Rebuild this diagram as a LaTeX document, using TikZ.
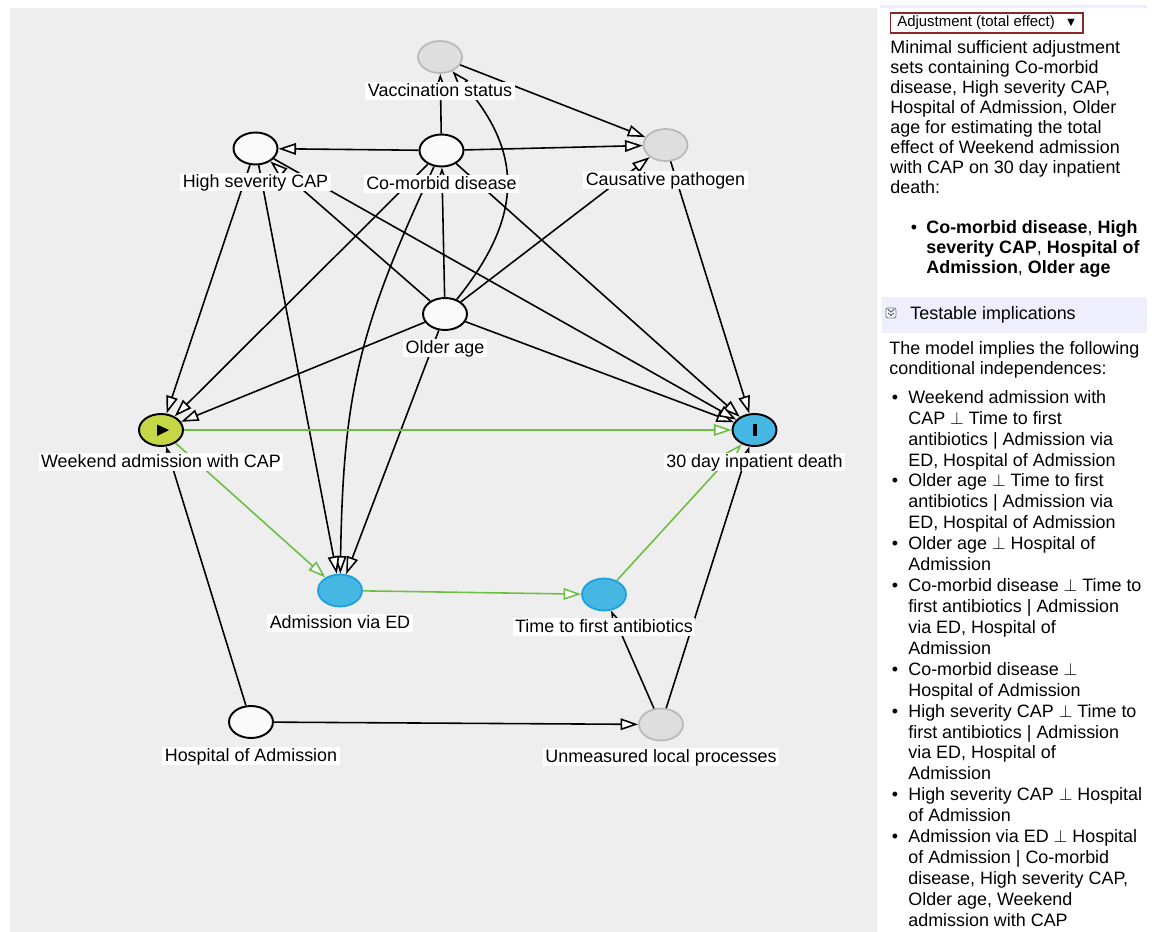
\documentclass[tikz,border=0pt]{standalone}
\usepackage{fontspec}
\setmainfont{Liberation Sans}
\newfontfamily\symfont{DejaVu Sans}
\usetikzlibrary{shapes.geometric,arrows.meta}

\definecolor{panelgray}{RGB}{238,238,238}
\definecolor{nodewhite}{RGB}{250,250,250}
\definecolor{latfill}{RGB}{222,222,222}
\definecolor{latborder}{RGB}{185,185,185}
\definecolor{medfill}{RGB}{70,182,226}
\definecolor{medborder}{RGB}{26,160,220}
\definecolor{expfill}{RGB}{197,214,71}
\definecolor{pathgreen}{RGB}{108,190,69}
\definecolor{lavender}{RGB}{238,238,252}
\definecolor{dropred}{RGB}{140,40,40}
\definecolor{iconborder}{RGB}{110,125,150}

\begin{document}
\begin{tikzpicture}[x=0.02cm,y=-0.02cm,
  vnode/.style={ellipse, draw=black, line width=1.1pt, minimum width=0.88cm,
    minimum height=0.64cm, inner sep=0pt, fill=nodewhite},
  latent/.style={vnode, draw=latborder, fill=latfill, line width=1pt},
  mediator/.style={vnode, draw=medborder, fill=medfill, line width=1pt},
  exposure/.style={vnode, fill=expfill},
  outcome/.style={vnode, fill=medfill},
  lab/.style={fill=white, inner xsep=1.5pt, inner ysep=0pt, text height=8pt,
    text depth=2.2pt, font=\fontsize{10.2}{11}\selectfont},
  edge/.style={draw=black, line width=0.9pt,
    -{Triangle[length=10pt,width=6.6pt,fill=white]}},
  causal/.style={edge, draw=pathgreen},
  ptext/.style={anchor=base west, inner sep=0pt, font=\fontsize{10.2}{11}\selectfont},
]
\useasboundingbox (0,0) rectangle (1159,932);

% graph canvas
\fill[panelgray] (10,8) rectangle (877,932);

% variables
\node[latent]   (V)  at (440,57)      {};
\node[vnode]    (H)  at (255.5,148.5) {};
\node[vnode]    (C)  at (441.5,150.5) {};
\node[latent]   (P)  at (665.5,145)   {};
\node[vnode]    (O)  at (445,314)     {};
\node[exposure] (W)  at (161,430)     {};
\node[outcome]  (D)  at (754.5,430)   {};
\node[mediator] (A)  at (340,590.5)   {};
\node[mediator] (T)  at (604,594.5)   {};
\node[vnode]    (Hs) at (251,722)     {};
\node[latent]   (U)  at (661,724.5)   {};

% exposure and outcome marks
\fill (157,424.5) -- (169,430) -- (157,436) -- cycle;
\fill (752.5,424) rectangle (757,436);

% arrows
\draw[edge] (V) -- (P);
\draw[edge] (C) -- (V);
\draw[edge] (C) -- (H);
\draw[edge] (C) -- (P);
\draw[edge] (C) -- (W);
\draw[edge] (C) to[bend right=12, looseness=1.1] (A);
\draw[edge] (C) -- (D);
\draw[edge] (O) -- (C);
\draw[edge] (O) -- (H);
\draw[edge] (O) to[bend right=40, looseness=1.2] (V);
\draw[edge] (O) -- (P);
\draw[edge] (O) -- (W);
\draw[edge] (O) -- (A);
\draw[edge] (O) -- (D);
\draw[edge] (H) -- (W);
\draw[edge] (H) -- (A);
\draw[edge] (H) -- (D);
\draw[edge] (P) -- (D);
\draw[edge] (Hs) -- (W);
\draw[edge] (Hs) -- (U);
\draw[edge] (U) -- (T);
\draw[edge] (U) -- (D);
\draw[causal] (W) -- (D);
\draw[causal] (W) -- (A);
\draw[causal] (A) -- (T);
\draw[causal] (T) -- (D);

% variable names
\node[lab] (Vl)  at (440,91)    {Vaccination status};
\node[lab] (Hl)  at (255.5,182) {High severity CAP};
\node[lab] (Cl)  at (441.5,184) {Co-morbid disease};
\node[lab] (Pl)  at (665.5,180) {Causative pathogen};
\node[lab] (Ol)  at (445,348)   {Older age};
\node[lab] (Wl)  at (161,462)   {Weekend admission with CAP};
\node[lab] (Dl)  at (754.5,462) {30 day inpatient death};
\node[lab] (Al)  at (340,623)   {Admission via ED};
\node[lab] (Tl)  at (604,627)   {Time to first antibiotics};
\node[lab] (Hsl) at (251,756)   {Hospital of Admission};
\node[lab] (Ul)  at (661,757)   {Unmeasured local processes};

% side panel: adjustment
\fill[lavender] (880,5.5) rectangle (1147,8.5);
\node[draw=dropred, line width=0.6pt, fill=white, minimum width=3.86cm,
  minimum height=0.4cm, inner sep=0pt] (menu) at (986.5,23) {};
\node[anchor=west, inner sep=0pt, font=\fontsize{8.5}{10}\selectfont]
  (menutxt) at (897,23) {Adjustment (total effect)};
\node[inner sep=0pt, font=\symfont\fontsize{5.5}{6}\selectfont]
  (menuarrow) at (1071,22.5) {▼};

\foreach \t [count=\k] in {{Minimal sufficient adjustment},{sets containing Co-morbid},
  {disease, High severity CAP,},{Hospital of Admission, Older},
  {age for estimating the total},{effect of Weekend admission},
  {with CAP on 30 day inpatient},{death:}}
  \node[ptext] (desc\k) at (890,{53.3+20.1*(\k-1)}) {\t};

\node[ptext, anchor=base] (adjb) at (914,233.3) {\textbullet};
\foreach \t [count=\k] in {{\textbf{Co-morbid disease}, \textbf{High}},
  {\textbf{severity CAP}, \textbf{Hospital of}},
  {\textbf{Admission}, \textbf{Older age}}}
  \node[ptext] (adj\k) at (926,{233.3+20*(\k-1)}) {\t};

% side panel: testable implications
\fill[lavender] (882,297) rectangle (1147,333);
\node[draw=iconborder, fill=white, rounded corners=1.2pt, minimum size=0.2cm,
  inner sep=0pt, line width=0.5pt] (icon) at (891,313) {};
\draw[iconborder!80!black, line width=0.6pt] (888,309.5) -- (891,312) -- (894,309.5)
  (888,313) -- (891,315.5) -- (894,313);
\node[ptext] (testhead) at (910,319.3) {Testable implications};

\node[ptext] (intro1) at (889,354.3) {The model implies the following};
\node[ptext] (intro2) at (889,374.3) {conditional independences:};

\foreach \t [count=\k] in {{Weekend admission with},{CAP $\perp$ Time to first},
  {antibiotics | Admission via},{ED, Hospital of Admission},
  {Older age $\perp$ Time to first},{antibiotics | Admission via},
  {ED, Hospital of Admission},{Older age $\perp$ Hospital of},{Admission},
  {Co-morbid disease $\perp$ Time to},{first antibiotics | Admission},
  {via ED, Hospital of},{Admission},{Co-morbid disease $\perp$},
  {Hospital of Admission},{High severity CAP $\perp$ Time to},
  {first antibiotics | Admission},{via ED, Hospital of},{Admission},
  {High severity CAP $\perp$ Hospital},{of Admission},
  {Admission via ED $\perp$ Hospital},{of Admission | Co-morbid},
  {disease, High severity CAP,},{Older age, Weekend},{admission with CAP}}
  \node[ptext] (ind\k) at (908,{403.3+20.92*(\k-1)}) {\t};

\foreach \k in {1,5,8,10,14,16,20,22}
  \node[ptext, anchor=base] (ib\k) at (895,{403.3+20.92*(\k-1)}) {\textbullet};

\end{tikzpicture}
\end{document}
